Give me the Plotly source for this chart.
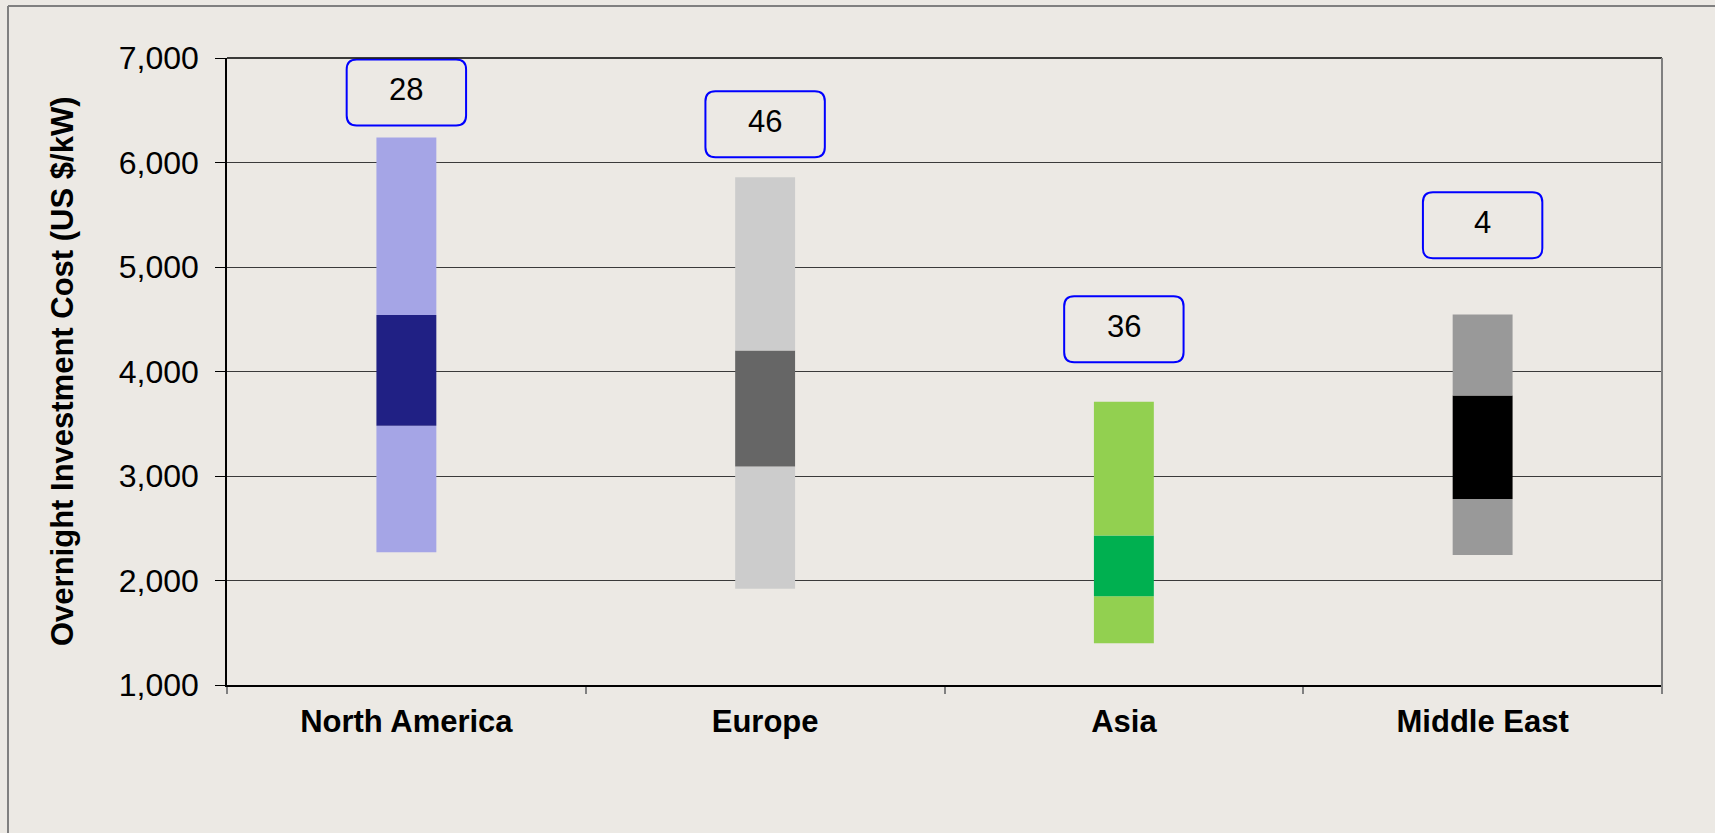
import plotly.graph_objects as go

# ---- data ----
regions = ["North America", "Europe", "Asia", "Middle East"]
low = [2270, 1920, 1400, 2245]       # bottom of light range
q_low = [3480, 3090, 1850, 2780]     # bottom of dark band
q_high = [4540, 4200, 2430, 3770]    # top of dark band
high = [6240, 5860, 3710, 4545]      # top of light range
counts = ["28", "46", "36", "4"]
count_label_y = [6670, 6365, 4405, 5400]  # centre of the count boxes (US $/kW)

y_ticks = [1000, 2000, 3000, 4000, 5000, 6000, 7000]

# ---- styles ----
light_colors = ["#A5A5E6", "#CCCCCC", "#92D050", "#999999"]
dark_colors = ["#202084", "#666666", "#00B050", "#000000"]
FONT = "Liberation Sans, Arial, sans-serif"
BG = "#ECE9E4"
BAR_W = 0.167

W, H = 1715, 833
ML, MR, MT, MB = 227, 53, 58, 148
PW = W - ML - MR
PH = H - MT - MB
Y0, Y1 = 1000, 7000
px_per_unit = PH / (Y1 - Y0)

fig = go.Figure()

def seg(base, top, colors):
    return go.Bar(
        x=regions,
        base=base,
        y=[t - b for t, b in zip(top, base)],
        width=BAR_W,
        marker=dict(color=colors, line=dict(width=0)),
        hoverinfo="skip",
        showlegend=False,
    )

fig.add_trace(seg(low, q_low, light_colors))
fig.add_trace(seg(q_low, q_high, dark_colors))
fig.add_trace(seg(q_high, high, light_colors))

shapes = []
annotations = []

# rounded count boxes
hw = 59.7 / PW            # half width in paper units
hh = 33.0 / px_per_unit   # half height in data units
rx = 10.0 / PW
ry = 10.0 / px_per_unit
for i, (c, yc) in enumerate(zip(counts, count_label_y)):
    xc = (i + 0.5) / len(regions)
    x0, x1 = xc - hw, xc + hw
    y0, y1 = yc - hh, yc + hh
    path = (
        f"M {x0+rx},{y0} L {x1-rx},{y0} Q {x1},{y0} {x1},{y0+ry} "
        f"L {x1},{y1-ry} Q {x1},{y1} {x1-rx},{y1} "
        f"L {x0+rx},{y1} Q {x0},{y1} {x0},{y1-ry} "
        f"L {x0},{y0+ry} Q {x0},{y0} {x0+rx},{y0} Z"
    )
    shapes.append(dict(type="path", path=path, xref="paper", yref="y",
                       line=dict(color="#0000FF", width=2), fillcolor="rgba(0,0,0,0)"))
    annotations.append(dict(text=c, x=xc, y=yc, xref="paper", yref="y",
                            showarrow=False, xanchor="center", yanchor="middle",
                            yshift=3, font=dict(family=FONT, size=31, color="black")))

# y axis title
annotations.append(dict(
    text="<b>Overnight Investment Cost (US $/kW)</b>",
    x=(62.5 - ML) / PW, y=0.5, xref="paper", yref="paper",
    textangle=-90, showarrow=False, xanchor="center", yanchor="middle",
    font=dict(family=FONT, size=31, color="black"),
))

# top gridline of plot area
shapes.append(dict(type="line", xref="paper", yref="paper",
                   x0=0, x1=1, y0=1, y1=1,
                   line=dict(color="black", width=1.5)))
# plot-area right border
shapes.append(dict(type="line", xref="paper", yref="paper",
                   x0=1, x1=1, y0=-7 / PH, y1=1,
                   line=dict(color="#808080", width=2)))
# outer chart border (left and top)
bx = (8 - ML) / PW
by = (MT + PH - 6) / PH
shapes.append(dict(type="line", xref="paper", yref="paper",
                   x0=bx, x1=bx, y0=-1, y1=by, line=dict(color="#808080", width=2)))
shapes.append(dict(type="line", xref="paper", yref="paper",
                   x0=bx, x1=1.2, y0=by, y1=by, line=dict(color="#808080", width=2)))

fig.update_layout(
    width=W, height=H,
    margin=dict(l=ML, r=MR, t=MT, b=MB, pad=0),
    paper_bgcolor=BG, plot_bgcolor=BG,
    barmode="overlay",
    showlegend=False,
    shapes=shapes,
    annotations=annotations,
    font=dict(family=FONT, color="black"),
)

fig.update_xaxes(
    type="category",
    range=[-0.5, 3.5],
    tickson="boundaries",
    ticks="outside", ticklen=7, tickcolor="#808080", tickwidth=1.5,
    showline=True, linecolor="black", linewidth=1.5,
    showgrid=False,
    tickfont=dict(family=FONT, size=31, color="black", weight="bold"),
    ticklabelstandoff=8,
)
fig.update_yaxes(
    range=[Y0, Y1],
    tickvals=y_ticks,
    ticktext=[f"{v:,}" for v in y_ticks],
    ticks="outside", ticklen=10, tickcolor="black", tickwidth=1,
    showline=True, linecolor="black", linewidth=1.5,
    showgrid=True, gridcolor="#3a3a3a", gridwidth=1,
    zeroline=False,
    tickfont=dict(family=FONT, size=32, color="black"),
    ticklabelstandoff=10,
)

fig.write_html("out.html", config={"displayModeBar": False},
               post_script="document.body.style.margin='0';")
